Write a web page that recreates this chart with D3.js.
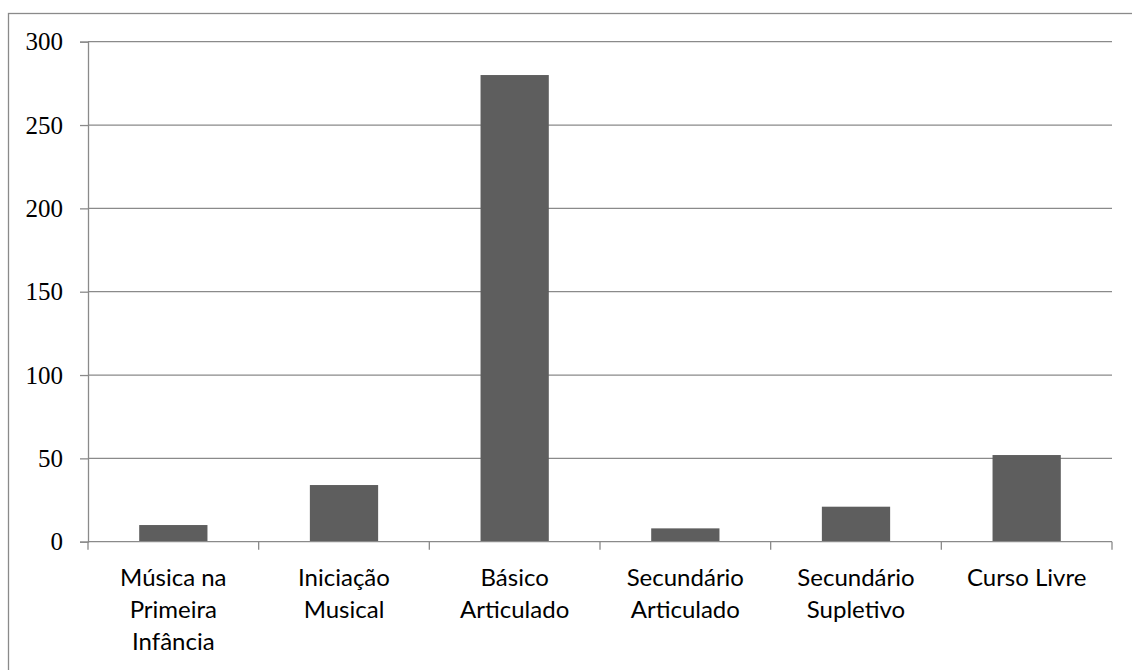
<!DOCTYPE html>
<html><head><meta charset="utf-8">
<script src="https://cdn.jsdelivr.net/npm/d3@7"></script>
<style>body{margin:0;background:#fff;} svg{display:block;}</style>
</head><body>
<script>
const categories = [["Música na","Primeira","Infância"],["Iniciação","Musical"],["Básico","Articulado"],["Secundário","Articulado"],["Secundário","Supletivo"],["Curso Livre"]];
const values = [10, 34, 280, 8, 21, 52];
const yTicks = [0, 50, 100, 150, 200, 250, 300];

const W = 1132, H = 670;
const svg = d3.select("body").append("svg").attr("width", W).attr("height", H);
svg.append("rect").attr("x", 8.5).attr("y", 13.5).attr("width", W + 10).attr("height", H + 10)
  .attr("fill", "none").attr("stroke", "#8a8a8a").attr("stroke-width", 1.3);

const mLeft = 88, mRight = 1112, mTop = 41.7, mBottom = 541.7;
const ids = categories.map((d, i) => i);
const x = d3.scaleBand().domain(ids).range([mLeft, mRight]).paddingInner(0.6).paddingOuter(0.3);
const xb = d3.scaleBand().domain(ids).range([mLeft, mRight]);
const y = d3.scaleLinear().domain([0, 300]).range([mBottom, mTop]);

// gridlines
svg.append("g").selectAll("line").data(yTicks.filter(t => t > 0)).join("line")
  .attr("x1", mLeft).attr("x2", mRight).attr("y1", d => y(d)).attr("y2", d => y(d))
  .attr("stroke", "#8a8a8a").attr("stroke-width", 1.3);

// bars
svg.append("g").selectAll("rect").data(values).join("rect")
  .attr("x", (d, i) => x(i)).attr("width", x.bandwidth())
  .attr("y", d => y(d)).attr("height", d => y(0) - y(d))
  .attr("fill", "#5e5e5e");

// y axis
const yAxis = svg.append("g").attr("transform", `translate(${mLeft},0)`)
  .call(d3.axisLeft(y).tickValues(yTicks).tickSize(8).tickPadding(17));
yAxis.select(".domain").attr("stroke", "#8a8a8a").attr("stroke-width", 1.3);
yAxis.selectAll(".tick line").attr("stroke", "#8a8a8a").attr("stroke-width", 1.3);
yAxis.selectAll(".tick text").attr("font-family", "'Liberation Serif', 'Times New Roman', serif")
  .attr("font-size", 25).attr("fill", "#000");

// x axis
const xAxis = svg.append("g").attr("transform", `translate(0,${mBottom})`)
  .call(d3.axisBottom(xb).tickSize(0).tickFormat(""));
xAxis.select(".domain").remove();
xAxis.append("line").attr("x1", mLeft).attr("x2", mRight).attr("stroke", "#8a8a8a").attr("stroke-width", 1.3);
const edges = ids.map(i => xb(i)).concat([mRight]);
xAxis.selectAll(".edge").data(edges).join("line").attr("class", "edge")
  .attr("x1", d => d).attr("x2", d => d).attr("y1", 0).attr("y2", 8)
  .attr("stroke", "#8a8a8a").attr("stroke-width", 1.3);

const labels = svg.append("g").selectAll("text").data(categories).join("text")
  .attr("x", (d, i) => xb(i) + xb.bandwidth() / 2).attr("y", 585.5)
  .attr("text-anchor", "middle")
  .attr("font-family", "Lato, 'Open Sans', sans-serif").attr("font-size", 24).attr("fill", "#000");
labels.selectAll("tspan").data(d => d).join("tspan")
  .attr("x", function() { return d3.select(this.parentNode).attr("x"); })
  .attr("dy", (d, j) => j === 0 ? 0 : 32).text(d => d);
</script>
</body></html>
